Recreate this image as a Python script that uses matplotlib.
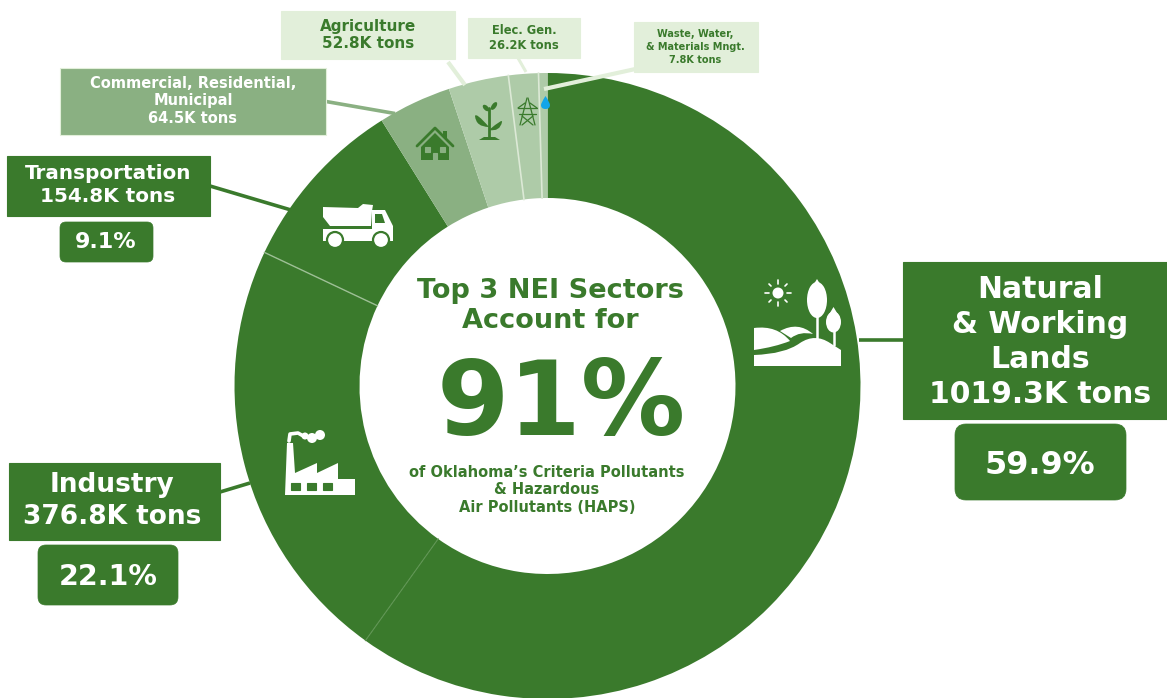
import numpy as np
import matplotlib
matplotlib.use('Agg')
import matplotlib.pyplot as plt
from matplotlib.patches import Rectangle, FancyBboxPatch, Polygon, Ellipse, Circle, PathPatch
from matplotlib.path import Path

# sectors, clockwise from the top
sectors = ['Natural & Working Lands', 'Industry', 'Transportation',
           'Commercial, Residential, Municipal', 'Agriculture', 'Elec. Gen.',
           'Waste, Water, & Materials Mngt.']
tons = [1019.3, 376.8, 154.8, 64.5, 52.8, 26.2, 7.8]

GREEN = '#3A7A2C'
MID = '#8AB082'
PALE = '#AECBA8'
LIGHT = '#E2EFDA'
colors = [GREEN, GREEN, GREEN, MID, PALE, PALE, PALE]
# line drawn after each wedge, None where the two colours already separate
separators = [('#5E9452', 0.8), ('#9DBF95', 1.0), None, None, ('#DCE9D6', 1.2), ('#DCE9D6', 1.2), None]

W, H = 1167, 698
CX, CY, R, R_IN = 547.5, 386, 313, 188

plt.rcParams['font.family'] = 'DejaVu Sans'
plt.rcParams['font.weight'] = 'bold'

fig = plt.figure(figsize=(W / 100, H / 100), dpi=100)
ax = fig.add_axes([0, 0, 1, 1])

# y axis is flipped so everything reads in picture pixels,
# this makes the wedges go clockwise from startangle -90
ax.pie(tons, colors=colors, center=(CX, CY), radius=R, startangle=-90, counterclock=True,
       wedgeprops={'width': R - R_IN, 'edgecolor': 'none'})
ax.set_xlim(0, W)
ax.set_ylim(H, 0)
ax.set_aspect('equal')
ax.axis('off')

ends = np.cumsum(tons) / np.sum(tons) * 2 * np.pi - np.pi / 2
for theta, sep in zip(ends, separators):
    if sep:
        ax.plot([CX + R_IN * np.cos(theta), CX + R * np.cos(theta)],
                [CY + R_IN * np.sin(theta), CY + R * np.sin(theta)],
                color=sep[0], lw=sep[1], zorder=2)


def leader(x0, y0, x1, y1, color, lw=2.4):
    ax.plot([x0, x1], [y0, y1], color=color, lw=lw, solid_capstyle='butt', zorder=3)


def box(x0, y0, x1, y1, color, edge=None, z=4):
    ax.add_patch(Rectangle((x0, y0), x1 - x0, y1 - y0, fc=color, ec=edge or color, lw=0.8, zorder=z))


def pill(x0, y0, x1, y1, rad=9):
    ax.add_patch(FancyBboxPatch((x0 + rad, y0 + rad), x1 - x0 - 2 * rad, y1 - y0 - 2 * rad,
                                boxstyle=f'round,pad={rad},rounding_size={rad}',
                                fc=GREEN, ec=GREEN, lw=0.5, zorder=4))


def label(x, y, s, size, color='white', linespacing=1.05):
    ax.text(x, y, s, fontsize=size, color=color, ha='center', va='center',
            linespacing=linespacing, zorder=5)


# leaders
leader(859, 340, 903, 340, GREEN, 2.6)
leader(210, 186, 291, 210, GREEN, 2.6)
leader(220, 492, 250, 483, GREEN, 2.6)
leader(326, 101.5, 395, 113.5, MID, 2.6)
leader(448, 62, 465, 85, LIGHT, 3)
leader(518, 58, 526, 72, LIGHT, 2.2)
leader(640, 68, 544, 89, LIGHT, 3)

# label boxes
box(903, 262, 1167, 419, GREEN)
label(1040, 342, 'Natural\n& Working\nLands\n1019.3K tons', 21.5, linespacing=1.25)
pill(955, 424, 1126, 500, 11)
label(1040, 466, '59.9%', 23)

box(7, 156, 210, 216, GREEN)
label(108, 185, 'Transportation\n154.8K tons', 14.4, linespacing=1.25)
pill(60, 222, 153, 262, 6)
label(106, 242, '9.1%', 16)

box(9, 463, 220, 540, GREEN)
label(112, 501, 'Industry\n376.8K tons', 19, linespacing=1.25)
pill(38, 545, 178, 605, 8)
label(108, 577, '22.1%', 20.5)

box(60, 68, 326, 135, MID, LIGHT)
label(193, 101, 'Commercial, Residential,\nMunicipal\n64.5K tons', 10.5, linespacing=1.17)

box(281, 11, 455, 59, LIGHT)
label(368, 35, 'Agriculture\n52.8K tons', 11, GREEN, 1.18)

box(468, 18, 580, 58, LIGHT)
label(524, 38, 'Elec. Gen.\n26.2K tons', 8.3, GREEN, 1.25)

box(634, 22, 758, 72, LIGHT)
label(695, 47, 'Waste, Water,\n& Materials Mngt.\n7.8K tons', 7, GREEN, 1.35)

# centre text
label(550, 306, 'Top 3 NEI Sectors\nAccount for', 19.5, GREEN, 1.18)
ax.text(561, 407, '91%', fontsize=75, color=GREEN, ha='center', va='center', zorder=5)
label(547, 490, 'of Oklahoma\u2019s Criteria Pollutants\n& Hazardous\nAir Pollutants (HAPS)', 10.5, GREEN, 1.22)


# icons, all in picture pixels
def poly(points, color='white', z=5):
    ax.add_patch(Polygon(points, closed=True, fc=color, ec='none', zorder=z))


def curve(verts, codes, color='white', z=5):
    ax.add_patch(PathPatch(Path(verts, codes), fc=color, ec='none', zorder=z))


def stroke(xs, ys, color='white', lw=1.2, z=5):
    ax.plot(xs, ys, color=color, lw=lw, zorder=z, solid_capstyle='round')


M, L, C, Z = Path.MOVETO, Path.LINETO, Path.CURVE3, Path.CLOSEPOLY

# landscape
ax.add_patch(Circle((778, 293), 5.5, fc='white', ec='none', zorder=5))
for dx0, dy0, dx1, dy1 in [(-13, 0, -9, 0), (9, 0, 13, 0), (0, -13, 0, -9), (0, 9, 0, 13),
                           (-9, -9, -7, -7), (7, 7, 9, 9), (-9, 9, -7, 7), (7, -7, 9, -9)]:
    stroke([778 + dx0, 778 + dx1], [293 + dy0, 293 + dy1])
ax.add_patch(Ellipse((817, 300), 20, 36, fc='white', ec='none', zorder=5))
poly([(817, 279), (809, 292), (825, 292)])
stroke([817, 817], [315, 339], lw=1.8)
ax.add_patch(Ellipse((833.5, 322), 15, 21, fc='white', ec='none', zorder=5))
poly([(833.5, 307), (827.5, 317), (839.5, 317)])
stroke([833.5, 833.5], [330, 345], lw=1.8)
curve([(754, 328), (777, 325), (790, 341), (775, 347), (754, 350), (754, 328)], [M, C, C, C, C, Z])
curve([(780, 331), (798, 321), (813, 334), (800, 331), (791, 338), (780, 331)], [M, C, C, C, C, Z])
curve([(754, 355), (785, 354), (800, 343), (815, 333), (830, 343), (841, 350), (841, 366), (754, 366), (754, 355)],
      [M, C, C, C, C, L, L, L, Z])

# factory
poly([(285, 495), (287, 443), (293, 443), (295, 473), (317, 463), (317, 473), (338, 463),
      (338, 479), (355, 479), (355, 495)])
for x in (291, 307, 323):
    box(x, 483, x + 9, 489.5, GREEN, z=6)
stroke([289, 290, 298, 305], [441, 434, 433, 437], lw=2.6)
for x, y, w in [(305, 436, 7), (312, 438, 10), (320, 435, 10)]:
    ax.add_patch(Circle((x, y), w / 2, fc='white', ec='none', zorder=5))

# truck
poly([(323, 207), (358, 208), (363, 204), (373, 205), (372, 211), (371, 226), (330, 226), (323, 217)])
poly([(323, 229), (372, 229), (372, 241), (323, 241)])
poly([(372, 210), (385, 210), (393, 226), (393, 241), (372, 241)])
poly([(375, 214), (382, 214), (385, 223), (375, 223)], GREEN, 6)
for x in (335, 381):
    ax.add_patch(Circle((x, 240), 8, fc='white', ec=GREEN, lw=1.6, zorder=6))

# house
stroke([417, 435, 453], [146, 128, 146], GREEN, 2)
poly([(443, 131), (447, 131), (447, 140), (443, 136)], GREEN)
poly([(421, 147), (435, 133), (449, 147), (449, 160), (421, 160)], GREEN)
for x in (425, 440):
    box(x, 147, x + 5, 152, MID, z=6)
box(433, 153, 437, 160, MID, z=6)

# seedling
stroke([489, 489], [108, 137], GREEN, 2)
curve([(489, 127), (476, 112), (475, 116), (476, 127), (489, 127), (489, 127)], [M, C, C, C, C, Z], GREEN)
curve([(489, 130), (503, 118), (502, 122), (500, 132), (489, 130), (489, 130)], [M, C, C, C, C, Z], GREEN)
ax.add_patch(Ellipse((486, 108), 4.5, 8, angle=-45, fc=GREEN, ec='none', zorder=5))
ax.add_patch(Ellipse((494, 106), 4.5, 9, angle=35, fc=GREEN, ec='none', zorder=5))
poly([(479, 140), (484, 137), (495, 137), (500, 140)], GREEN)

# pylon
for seg in [((527, 98), (520, 125)), ((528, 98), (535, 125)), ((518, 108), (537, 108)), ((519, 114), (536, 114)),
            ((522, 116), (533, 125)), ((533, 116), (522, 125)), ((518, 108), (525, 103)), ((537, 108), (530, 103))]:
    stroke([seg[0][0], seg[1][0]], [seg[0][1], seg[1][1]], GREEN, 0.9)

# water drop
curve([(545.5, 96), (541, 103), (541, 105), (541, 109), (545.5, 109), (550, 109), (550, 105), (550, 103), (545.5, 96), (545.5, 96)],
      [M, C, C, C, C, C, C, C, C, Z], '#12A5E8')

fig.savefig('out.png', dpi=100, facecolor='white')
